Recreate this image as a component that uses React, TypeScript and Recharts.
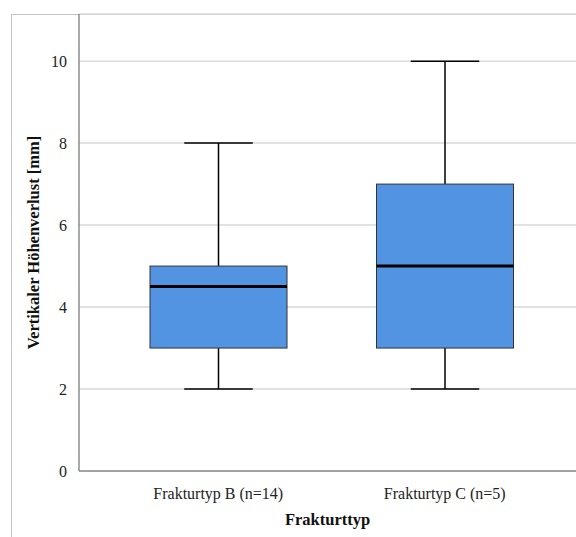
import { Bar, CartesianGrid, ComposedChart, XAxis, YAxis } from "recharts";

const groups = ["Frakturtyp B (n=14)", "Frakturtyp C (n=5)"];
const minValues = [2, 2];
const q1Values = [3, 3];
const medianValues = [4.5, 5];
const q3Values = [5, 7];
const maxValues = [8, 10];
const yTicks = [0, 2, 4, 6, 8, 10];

const data = groups.map((name, i) => ({
    name,
    min: minValues[i],
    q1: q1Values[i],
    median: medianValues[i],
    q3: q3Values[i],
    max: maxValues[i],
    range: [minValues[i], maxValues[i]],
}));

const serif = "'Liberation Serif', 'Times New Roman', serif";

// draws one box plot inside the pixel span the bar gets for [min, max]
const BoxShape = (props: any) => {
    const { x, width, payload } = props;
    const top = Math.min(props.y, props.y + props.height);
    const h = Math.abs(props.height);
    const yOf = (v: number) => top + (h * (payload.max - v)) / (payload.max - payload.min);
    const cx = x + width / 2;
    const capHalf = width / 4;

    return (
        <g>
            <line x1={cx} x2={cx} y1={yOf(payload.max)} y2={yOf(payload.q3)} stroke="#000" strokeWidth={1.5} />
            <line x1={cx} x2={cx} y1={yOf(payload.q1)} y2={yOf(payload.min)} stroke="#000" strokeWidth={1.5} />
            <line x1={cx - capHalf} x2={cx + capHalf} y1={yOf(payload.max)} y2={yOf(payload.max)} stroke="#000" strokeWidth={1.5} />
            <line x1={cx - capHalf} x2={cx + capHalf} y1={yOf(payload.min)} y2={yOf(payload.min)} stroke="#000" strokeWidth={1.5} />
            <rect
                x={x}
                y={yOf(payload.q3)}
                width={width}
                height={yOf(payload.q1) - yOf(payload.q3)}
                fill="#5294E2"
                stroke="#333"
                strokeWidth={1}
            />
            <line x1={x} x2={x + width} y1={yOf(payload.median)} y2={yOf(payload.median)} stroke="#000" strokeWidth={3} />
        </g>
    );
};

const App = () => {
    return (
        <div style={{ position: "absolute", left: 0, top: 0, width: 576, height: 537, overflow: "hidden", background: "#fff" }}>
            <div
                style={{
                    position: "absolute",
                    left: 11,
                    top: 14,
                    width: 620,
                    height: 600,
                    border: "1px solid #c4c4c4",
                }}
            />
            <div style={{ position: "absolute", left: 0, top: 0 }}>
                <ComposedChart width={576} height={537} data={data} margin={{ top: 14, right: 0, bottom: 0, left: 0 }}>
                    <CartesianGrid vertical={false} stroke="#d9d9d9" strokeWidth={1.5} />
                    <XAxis
                        dataKey="name"
                        type="category"
                        height={66}
                        padding={{ left: 26, right: 18 }}
                        tickLine={false}
                        tickMargin={11}
                        stroke="#8c8c8c"
                        strokeWidth={1.5}
                        tick={{ fill: "#222", fontFamily: serif, fontSize: 16 }}
                        label={{
                            value: "Frakturttyp",
                            position: "insideBottom",
                            offset: 12,
                            style: { fill: "#111", fontFamily: serif, fontSize: 16.5, fontWeight: "bold" },
                        }}
                    />
                    <YAxis
                        width={79}
                        domain={[0, 11.15]}
                        ticks={yTicks}
                        allowDataOverflow
                        tickLine={false}
                        tickMargin={6}
                        stroke="#8c8c8c"
                        strokeWidth={1.5}
                        tick={{ fill: "#222", fontFamily: serif, fontSize: 16 }}
                        label={{
                            value: "Vertikaler Höhenverlust [mm]",
                            angle: -90,
                            position: "insideLeft",
                            offset: 33,
                            style: { textAnchor: "middle", fill: "#111", fontFamily: serif, fontSize: 16.5, fontWeight: "bold" },
                        }}
                    />
                    <Bar dataKey="range" barSize={137} shape={<BoxShape />} isAnimationActive={false} />
                </ComposedChart>
            </div>
        </div>
    );
};

export default App;
